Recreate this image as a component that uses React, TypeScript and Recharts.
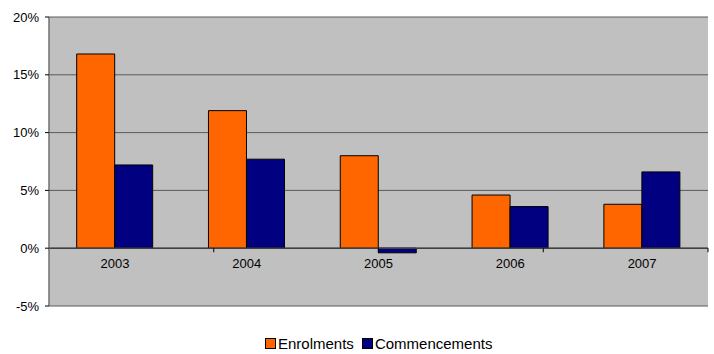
import React from 'react';
import {
    BarChart,
    Bar,
    XAxis,
    YAxis,
    CartesianGrid,
    ReferenceLine,
    ReferenceDot,
} from 'recharts';

const years = ['2003', '2004', '2005', '2006', '2007'];
const enrolments = [16.8, 11.9, 8.0, 4.6, 3.8];
const commencements = [7.2, 7.7, -0.4, 3.6, 6.6];
const yTicks = [-5, 0, 5, 10, 15, 20];
const dividers = [1, 2, 3, 4];

const series = [
    { key: 'enrolments', name: 'Enrolments', color: '#FF6600' },
    { key: 'commencements', name: 'Commencements', color: '#000080' },
];

const FONT = '"Liberation Sans", Arial, sans-serif';

export default function App() {
    const data = years.map((year, i) => ({
        year,
        enrolments: enrolments[i],
        commencements: commencements[i],
    }));

    return (
        <div style={{ position: 'absolute', left: 0, top: 0, width: 714, height: 354, background: '#fff', fontFamily: FONT }}>
            <BarChart
                width={714}
                height={354}
                data={data}
                margin={{ top: 17, right: 6, left: 0, bottom: 48 }}
                barCategoryGap="21%"
                barGap={0}
            >
                <CartesianGrid vertical={false} stroke="#5a5a5a" fill="#C0C0C0" horizontalValues={yTicks} />
                <XAxis dataKey="year" hide />
                <XAxis xAxisId="n" type="number" domain={[0, 5]} hide allowDataOverflow />
                <YAxis
                    width={49}
                    domain={[-5, 20]}
                    ticks={yTicks}
                    interval={0}
                    tickFormatter={(v) => `${v}%`}
                    tick={{ fill: '#000', fontSize: 13, fontFamily: FONT }}
                    tickSize={4}
                    tickMargin={6}
                    axisLine={{ stroke: '#707070', strokeWidth: 1.5 }}
                    tickLine={{ stroke: '#000' }}
                    allowDataOverflow
                />
                {series.map((s) => (
                    <Bar
                        key={s.key}
                        dataKey={s.key}
                        name={s.name}
                        fill={s.color}
                        stroke="#000"
                        strokeWidth={1}
                        isAnimationActive={false}
                    />
                ))}
                <ReferenceLine y={0} stroke="#404040" strokeWidth={1.5} />
                {dividers.map((d) => (
                    <ReferenceLine
                        key={d}
                        xAxisId="n"
                        segment={[{ x: d, y: 0 }, { x: d, y: -0.35 }]}
                        stroke="#000"
                        ifOverflow="visible"
                    />
                ))}
                {years.map((y) => (
                    <ReferenceDot
                        key={y}
                        x={y}
                        y={0}
                        r={1}
                        shape={() => <g />}
                        ifOverflow="visible"
                        label={{ value: y, position: 'bottom', offset: 10, fill: '#000', fontSize: 13, fontFamily: FONT }}
                    />
                ))}
            </BarChart>
            <div
                style={{
                    position: 'absolute',
                    top: 335,
                    left: 265,
                    display: 'flex',
                    alignItems: 'center',
                    fontSize: 15,
                    color: '#000',
                    whiteSpace: 'nowrap',
                }}
            >
                {series.map((s) => (
                    <span key={s.key} style={{ display: 'flex', alignItems: 'center', marginRight: 8 }}>
                        <span
                            style={{
                                display: 'inline-block',
                                width: 9,
                                height: 9,
                                background: s.color,
                                border: '1px solid #000',
                                marginRight: 2,
                            }}
                        />
                        {s.name}
                    </span>
                ))}
            </div>
        </div>
    );
}
